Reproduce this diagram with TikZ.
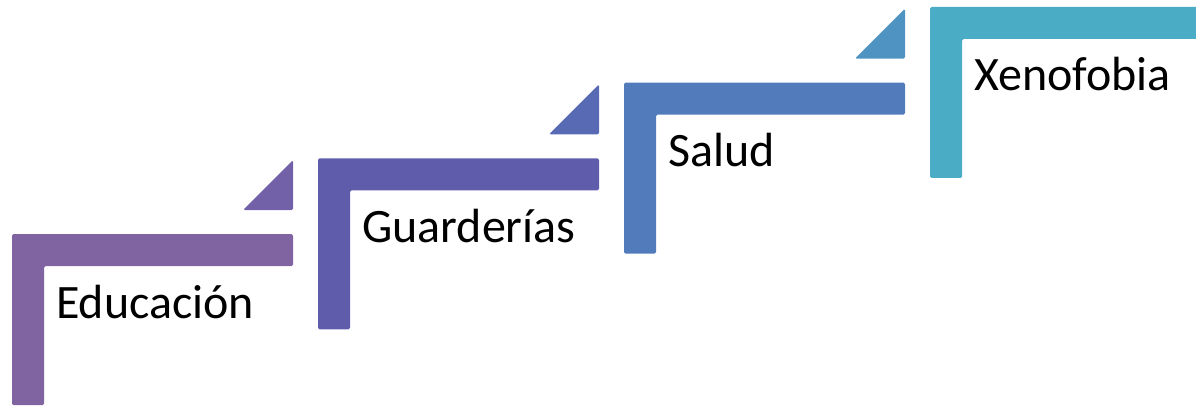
\documentclass[tikz,border=0pt]{standalone}
\usepackage{fontspec}
\setmainfont{Carlito}
\definecolor{stepA}{RGB}{128,100,162}
\definecolor{triA}{RGB}{114,96,168}
\definecolor{stepB}{RGB}{96,92,172}
\definecolor{triB}{RGB}{88,106,180}
\definecolor{stepC}{RGB}{82,123,188}
\definecolor{triC}{RGB}{79,147,194}
\definecolor{stepD}{RGB}{75,172,198}
\begin{document}
\begin{tikzpicture}[x=1pt,y=-1pt] % coordinates in pixels, y downwards
\tikzstyle{stepbar} = [rounded corners=1.5pt] % L-shaped step
\tikzstyle{steptri} = [rounded corners=1.5pt] % small triangle above a step
\tikzstyle{steplabel} = [anchor=base west, inner sep=0pt, font=\fontsize{48}{52}\selectfont] % text of a step
\useasboundingbox (0,0) rectangle (1196,405);
\clip (0,0) rectangle (1196,405);
\foreach \i/\txt/\bar/\tri in {0/Educación/stepA/triA, 1/Guarderías/stepB/triB, 2/Salud/stepC/triC, 3/Xenofobia/stepD/} {
    \pgfmathsetmacro{\l}{12+306*\i} % left of the step
    \pgfmathsetmacro{\t}{234-75.67*\i} % top of the step
    \fill[stepbar, \bar] (\l,\t) -- ++(281,0) -- ++(0,32) -- ++(-249,0) -- ++(0,139) -- ++(-32,0) -- cycle;
    \ifx\tri\empty\else
        \fill[steptri, \tri] (\l+231,\t-24) -- (\l+281,\t-74) -- (\l+281,\t-24) -- cycle;
    \fi
    \node[steplabel] (s\i) at (\l+44,\t+84) {\txt};
}
\end{tikzpicture}
\end{document}
